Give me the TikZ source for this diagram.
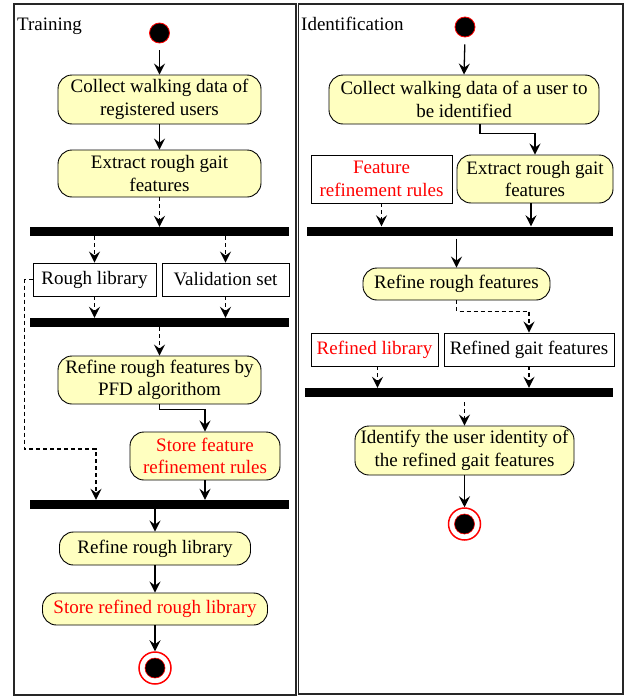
\documentclass[tikz,border=0pt]{standalone}
\usepackage{fontspec}
\setmainfont{Liberation Serif}
\usetikzlibrary{arrows.meta,calc}
\definecolor{actfill}{HTML}{FFFFC0}
\definecolor{rd}{HTML}{FF0000}
\begin{document}
\begin{tikzpicture}[x=1pt,y=-1pt,
  font=\fontsize{19}{22.5}\selectfont,
  act/.style={draw,line width=0.9pt,fill=actfill,rounded corners=14pt,inner sep=0pt,align=center},
  obj/.style={draw,line width=0.9pt,fill=white,inner sep=0pt,align=center},
  barr/.style={fill=black,inner sep=0pt,minimum height=9pt},
  arr/.style={line width=1.3pt,-{Stealth[length=11pt,width=11pt,inset=4pt]}},
  darr/.style={arr,dash pattern=on 4pt off 3pt},
  startnode/.style={circle,fill=black,draw=rd,line width=0.8pt,minimum size=20pt,inner sep=0pt},
  endouter/.style={circle,draw=rd,line width=1.5pt,fill=white,minimum size=32pt,inner sep=0pt},
  endinner/.style={circle,fill=black,draw=rd,line width=0.6pt,minimum size=20pt,inner sep=0pt},
  lane/.style={draw,line width=1.3pt,color=black!85},
]
\useasboundingbox (0,0) rectangle (628,696);
% swimlane frames
\draw[lane] (14,4) rectangle (296,695);
\draw[lane] (298.5,4) rectangle (623,694);
\node[anchor=base west,inner sep=0pt] (t1) at (17,30) {Training};
\node[anchor=base west,inner sep=0pt] (t2) at (301,30) {Identification};

% ---------------- Training ----------------
\node[startnode] (s1) at (159.5,33) {};
\node[act,minimum width=203pt,minimum height=49pt] (c1) at (159.5,99.5) {Collect walking data of\\registered users};
\node[act,minimum width=203pt,minimum height=47pt] (e1) at (159.5,173.5) {Extract rough gait\\features};
\node[barr,minimum width=259pt] (bar1) at (159.5,231.5) {};
\node[obj,minimum width=123pt,minimum height=33pt] (rl) at (94.5,279.5) {Rough library};
\node[obj,minimum width=127pt,minimum height=33pt] (vs) at (225.5,279.5) {Validation set};
\node[barr,minimum width=259pt] (bar2) at (159.5,322.5) {};
\node[act,minimum width=203pt,minimum height=48pt] (r1) at (159.5,380) {Refine rough features by\\PFD algorithom};
\node[act,minimum width=150pt,minimum height=48pt,text=rd] (st1) at (205,456) {Store feature\\refinement rules};
\node[barr,minimum width=259pt] (bar3) at (159.5,504.5) {};
\node[act,minimum width=191pt,minimum height=33pt] (rrl) at (155,548.5) {Refine rough library};
\node[act,minimum width=225pt,minimum height=32pt,text=rd] (srl) at (155,609) {Store refined rough library};
\node[endouter] (end1) at (155,668) {};
\node[endinner] (end1in) at (end1) {};

\draw[arr] (s1.south) -- (c1.north) [shorten <=7pt];
\draw[arr] (c1.south) -- (e1.north);
\draw[darr] (e1.south) -- (bar1.north);
\draw[darr] (rl.north |- bar1.south) -- (rl.north);
\draw[darr] (vs.north |- bar1.south) -- (vs.north);
\draw[darr] (rl.south) -- (rl.south |- bar2.north);
\draw[darr] (vs.south) -- (vs.south |- bar2.north);
\draw[darr] (bar2.south) -- (r1.north);
\draw[arr] (r1.south) -- ++(0,5) -| (st1.north);
\draw[arr] (st1.south) -- (st1.south |- bar3.north);
\coordinate (k1) at (96,449);
\draw[darr] (rl.west) -- ++(-8,0) |- (k1) -- (k1 |- bar3.north);
\draw[arr] (rrl.north |- bar3.south) -- (rrl.north);
\draw[arr] (rrl.south) -- (srl.north);
\draw[arr] (srl.south) -- (end1.north);

% ---------------- Identification ----------------
\node[startnode] (s2) at (465,27) {};
\node[act,minimum width=270pt,minimum height=49pt] (c2) at (464,99.5) {Collect walking data of a user to\\be identified};
\node[obj,minimum width=141pt,minimum height=48pt,text=rd] (frr) at (381.5,179) {Feature\\refinement rules};
\node[act,minimum width=156pt,minimum height=48pt] (e2) at (535,179) {Extract rough gait\\features};
\node[barr,minimum width=306pt] (bar4) at (460,231) {};
\node[act,minimum width=187pt,minimum height=32pt] (rrf) at (456.5,284) {Refine rough features};
\node[obj,minimum width=127pt,minimum height=33pt,text=rd] (rlib) at (374.5,349.5) {Refined library};
\node[obj,minimum width=170pt,minimum height=33pt] (rgf) at (529,349.5) {Refined gait features};
\node[barr,minimum width=308pt] (bar5) at (459,392.5) {};
\node[act,minimum width=219pt,minimum height=49pt] (idn) at (464.5,450.5) {Identify the user identity of\\the refined gait features};
\node[endouter] (end2) at (464.5,524) {};
\node[endinner] (end2in) at (end2) {};

\draw[arr] (s2.south) -- (c2.north) [shorten <=7pt];
\draw[arr] ([xshift=16pt]c2.south) -- ++(0,9) -| (e2.north);
\draw[darr] (frr.south) -- (frr.south |- bar4.north);
\draw[arr] ([xshift=-4pt]e2.south) -- ([xshift=-4pt]e2.south |- bar4.north);
\draw[arr] (rrf.north |- bar4.south) -- (rrf.north) [shorten <=3pt];
\draw[darr] (rrf.south) -- ++(0,11) -| (rgf.north);
\draw[darr] ([xshift=3pt]rlib.south) -- ([xshift=3pt]rlib.south |- bar5.north);
\draw[darr] (rgf.south) -- (rgf.south |- bar5.north);
\draw[darr] (idn.north |- bar5.south) -- (idn.north) [shorten <=5pt];
\draw[arr] (idn.south) -- (end2.north);
\end{tikzpicture}
\end{document}
